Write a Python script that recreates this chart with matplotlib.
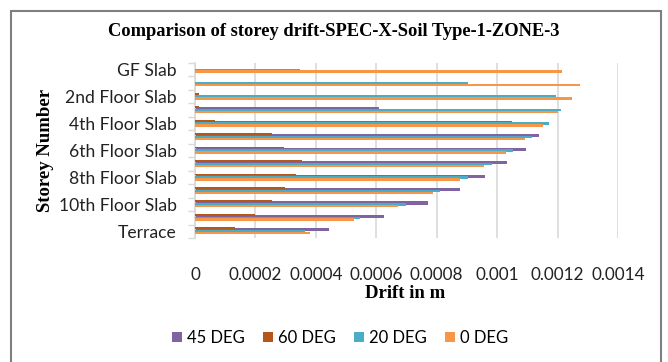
import matplotlib
matplotlib.use("Agg")
import matplotlib.pyplot as plt
import numpy as np
from matplotlib.patches import Rectangle

categories = ["Terrace", "11th Floor Slab", "10th Floor Slab", "9th Floor Slab",
              "8th Floor Slab", "7th Floor Slab", "6th Floor Slab", "5th Floor Slab",
              "4th Floor Slab", "3rd Floor Slab", "2nd Floor Slab", "1st Floor Slab",
              "GF Slab"]
deg45 = [0.000445, 0.000627, 0.00077, 0.000878, 0.000961, 0.001033, 0.001096,
         0.001137, 0.001049, 0.000609, 0.0, 0.0, 0.0]
deg60 = [0.000132, 0.0002, 0.000255, 0.000299, 0.000334, 0.000354, 0.000296,
         0.000255, 0.0000678, 0.0000126, 0.0000126, 0.0, 0.0]
deg20 = [0.000365, 0.000545, 0.000699, 0.000812, 0.000902, 0.000982, 0.001052,
         0.001117, 0.001172, 0.001211, 0.001195, 0.000905, 0.000346]
deg0 = [0.000379, 0.000525, 0.000672, 0.000787, 0.000878, 0.000957, 0.001029,
        0.001093, 0.001151, 0.001203, 0.001247, 0.001274, 0.001216]
xticks = [0, 0.0002, 0.0004, 0.0006, 0.0008, 0.001, 0.0012, 0.0014]
xticklabels = ["0", "0.0002", "0.0004", "0.0006", "0.0008", "0.001", "0.0012", "0.0014"]

c45, c60, c20, c0 = "#8064A2", "#B5561A", "#4BACC6", "#F79646"

W, H = 668, 362
fig = plt.figure(figsize=(W / 100, H / 100), dpi=100)
ax = fig.add_axes([195 / W, 1 - 238 / H, (618 - 195) / W, (238 - 63) / H])

y = np.arange(len(categories))
ax.barh(y + 0.10, deg45, height=0.23, color=c45, label="45 DEG", zorder=2)
ax.barh(y + 0.0, deg20, height=0.18, color=c20, label="20 DEG", zorder=3)
ax.barh(y - 0.14, deg0, height=0.18, color=c0, label="0 DEG", zorder=3)
ax.barh(y + 0.22, deg60, height=0.14, color=c60, label="60 DEG", zorder=4)

ax.set_xlim(0, 0.0014)
ax.set_ylim(-0.5, len(categories) - 0.5)
ax.set_xticks(xticks)
ax.set_xticklabels(xticklabels, fontfamily="Lato", fontsize=12.3, color="#222222")
ax.tick_params(axis="x", length=0, pad=21)
ax.xaxis.grid(True, color="#D9D9D9", linewidth=1.2, zorder=0)
ax.set_axisbelow(True)

ax.set_yticks(y[::2])
ax.set_yticklabels(categories[::2], fontfamily="Lato", fontsize=12.6, color="#222222")
ax.set_yticks(np.arange(-0.5, len(categories), 1), minor=True)
ax.tick_params(axis="y", which="major", length=0, pad=13)
ax.tick_params(axis="y", which="minor", length=5, color="#D9D9D9", width=1)

for s in ["top", "right", "bottom"]:
    ax.spines[s].set_visible(False)
ax.spines["left"].set_color("#D9D9D9")
ax.spines["left"].set_linewidth(1.2)

fig.text(334 / W, 1 - 32 / H, "Comparison of storey drift-SPEC-X-Soil Type-1-ZONE-3",
         ha="center", va="center", fontfamily="Liberation Serif", fontweight="bold",
         fontsize=13.3)
fig.text(405 / W, 1 - 294 / H, "Drift in m", ha="center", va="center",
         fontfamily="Liberation Serif", fontweight="bold", fontsize=13.5)
fig.text(45 / W, 1 - 150 / H, "Storey Number", ha="center", va="center", rotation=90,
         fontfamily="Liberation Serif", fontweight="bold", fontsize=13.5)

handles, labels = ax.get_legend_handles_labels()
order = [labels.index(l) for l in ["45 DEG", "60 DEG", "20 DEG", "0 DEG"]]
fig.legend([handles[i] for i in order], [labels[i] for i in order],
           loc="center", bbox_to_anchor=(340 / W, 1 - 338 / H), ncol=4, frameon=False,
           prop={"family": "Lato", "size": 12}, handlelength=0.6, handleheight=0.6,
           handletextpad=0.3, columnspacing=1.1)

fig.patches.append(Rectangle((11 / W, -0.1), (661 - 11) / W, 1.1 - 11 / H,
                             transform=fig.transFigure, fill=False,
                             edgecolor="#7F7F7F", linewidth=1.5))

fig.savefig("out.png", dpi=100)
